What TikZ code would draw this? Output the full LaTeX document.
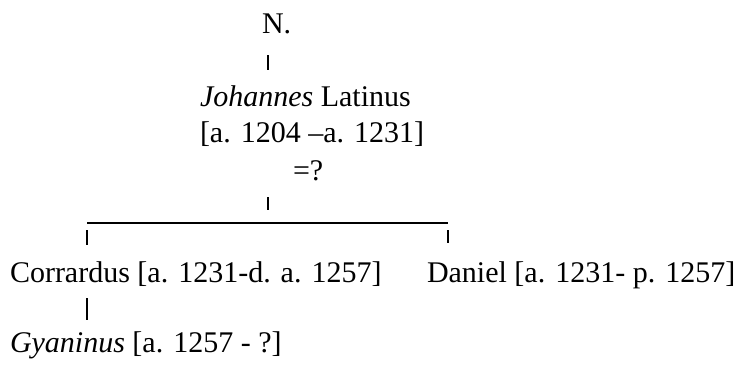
\documentclass[tikz,border=0pt]{standalone}
\usepackage{fontspec}
\setmainfont{Liberation Serif}
\begin{document}
\begin{tikzpicture}[x=1pt,y=-1pt,
  lbl/.style={anchor=base west,inner sep=0pt,outer sep=0pt,font=\fontsize{30pt}{36pt}\selectfont,text=black},
  tick/.style={draw=black,line width=1.4pt},
  bar/.style={draw=black,line width=1.6pt}]
\useasboundingbox (0,0) rectangle (734,365);
% names
\node[lbl] (n) at (262,33) {N.};
\node[lbl] (jl) at (200,106) {\textit{Johannes} Latinus};
\node[lbl] (jd) at (200,142) {[a. 1204 –a. 1231]};
\node[lbl] (jq) at (293,180) {=?};
\node[lbl] (co) at (10,282) {Corrardus [a. 1231-d. a. 1257]};
\node[lbl] (da) at (427,282) {Daniel [a. 1231- p. 1257]};
\node[lbl] (gy) at (10,352) {\textit{Gyaninus} [a. 1257 - ?]};
% connector coordinates
\coordinate (t1a) at (268,55);
\coordinate (t1b) at (268,70);
\coordinate (t2a) at (268,197);
\coordinate (t2b) at (268,210);
\coordinate (hl) at (87,223);
\coordinate (hr) at (448,223);
\coordinate (t3a) at (87,230);
\coordinate (t3b) at (87,245);
\coordinate (t4a) at (448,230);
\coordinate (t4b) at (448,243);
\coordinate (t5a) at (87,298);
\coordinate (t5b) at (87,320);
% connectors
\draw[tick] (t1a) -- (t1b);
\draw[tick] (t2a) -- (t2b);
\draw[bar] (hl) -- (hr);
\draw[tick] (t3a) -- (t3b);
\draw[tick] (t4a) -- (t4b);
\draw[tick] (t5a) -- (t5b);
\end{tikzpicture}
\end{document}
